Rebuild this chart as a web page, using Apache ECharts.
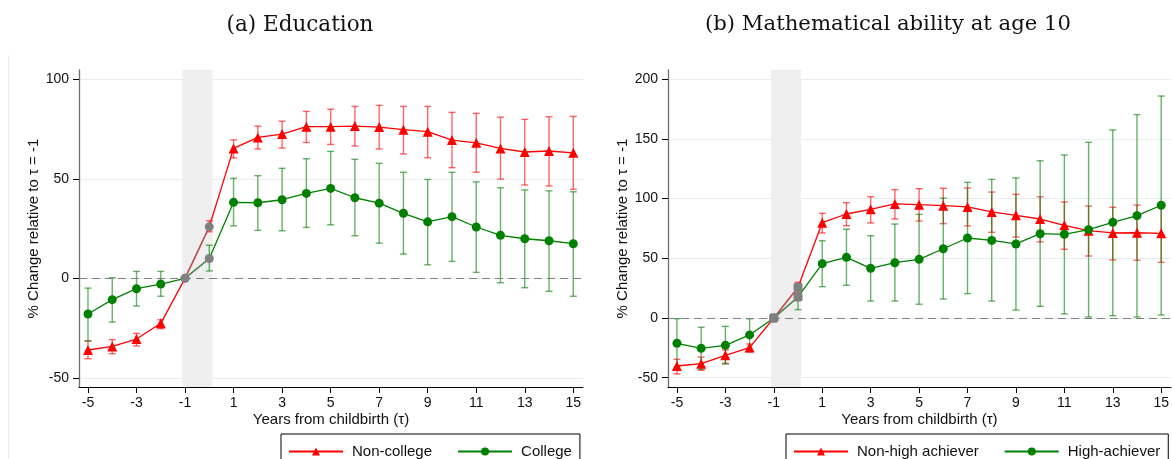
<!DOCTYPE html>
<html>
<head>
<meta charset="utf-8">
<script src="https://cdn.jsdelivr.net/npm/echarts@6/dist/echarts.min.js"></script>
<style>
html,body{margin:0;padding:0;background:#fff;}
#chart{width:1172px;height:459px;}
</style>
</head>
<body>
<div id="chart"></div>
<script>
// ---------- data ----------
const tau = [-5,-4,-3,-2,-1,0,1,2,3,4,5,6,7,8,9,10,11,12,13,14,15];
const xTicks = [-5,-3,-1,1,3,5,7,9,11,13,15];
const yTicksA = [-50,0,50,100];
const yTicksB = [-50,0,50,100,150,200];
const shadeRange = [-1.11, 0.13];

const titleA = '(a) Education';
const titleB = '(b) Mathematical ability at age 10';
const xName = 'Years from childbirth (τ)';
const yName = '% Change relative to τ = -1';

const nameNonCollege = 'Non-college';
const nameCollege = 'College';
const nameNonHigh = 'Non-high achiever';
const nameHigh = 'High-achiever';

const eduNonCollege   = [-36.0,-34.2,-30.5,-22.6,0,25.9,65.3,70.8,72.5,76.2,76.2,76.5,76.0,74.7,73.7,69.5,68.1,65.3,63.5,64.0,63.1];
const eduNonCollegeLo = [-40.4,-37.9,-34.0,-25.3,0,23.4,60.5,65.0,65.5,68.3,67.3,66.5,65.0,62.5,60.6,55.6,53.3,49.9,46.9,46.4,44.7];
const eduNonCollegeHi = [-31.4,-30.8,-27.7,-20.8,0,28.9,69.6,76.5,79.0,83.9,85.0,86.4,86.9,86.4,86.4,83.4,82.9,81.0,79.9,81.2,81.4];

const eduCollege   = [-17.9,-10.7,-5.2,-2.9,0,10.0,38.2,38.0,39.5,42.7,45.2,40.5,37.8,32.7,28.4,31.0,25.8,21.6,19.9,18.9,17.4];
const eduCollegeLo = [-31.5,-22.0,-13.9,-9.0,0,3.7,26.4,24.1,23.9,25.6,26.9,21.4,17.7,12.2,6.8,8.5,3.0,-2.2,-4.7,-6.5,-9.0];
const eduCollegeHi = [-4.9,0.3,3.5,3.5,0,16.6,50.3,51.6,55.3,60.1,63.8,59.8,57.8,53.3,49.7,53.3,48.5,45.5,44.4,44.0,43.5];

const mathNonHigh   = [-40.2,-38.3,-31.3,-24.8,0,25.7,79.8,87.1,91.0,95.5,94.9,94.1,93.0,88.8,86.0,82.9,77.6,73.1,71.2,71.4,70.9];
const mathNonHighLo = [-46.9,-43.8,-38.0,-28.5,0,21.2,71.2,77.3,79.6,82.9,81.2,79.0,77.1,71.8,67.8,63.7,57.5,51.9,48.6,48.3,46.6];
const mathNonHighHi = [-34.6,-32.7,-26.8,-21.8,0,29.9,87.7,96.6,101.6,107.5,108.3,108.6,108.9,105.5,103.6,101.6,97.2,93.8,92.7,94.6,95.2];

const mathHigh   = [-21.2,-25.4,-22.9,-14.2,0,17.6,45.5,50.8,41.6,46.3,49.1,58.0,67.0,65.0,62.0,70.6,70.1,74.0,80.1,85.7,94.4];
const mathHighLo = [-41.0,-43.0,-38.5,-27.0,0,7.0,26.2,27.4,14.2,14.2,11.5,15.9,20.4,14.2,6.7,9.8,3.4,0.8,1.9,0.8,2.5];
const mathHighHi = [-0.6,-7.8,-7.0,-0.6,0,27.4,64.7,74.3,68.9,78.7,86.8,100.5,113.6,116.1,117.3,131.7,136.5,147.2,157.5,170.3,185.9];

// ---------- styling ----------
const RED = '#ff0000', GREEN = '#008000', GRAY = '#808080';
const FONT = 'Liberation Sans';
const refIdx = [tau.indexOf(-1), tau.indexOf(0)];

function lineData(vals, graySymbol) {
  return tau.map((t, i) => {
    if (refIdx.includes(i)) {
      return { value: [t, vals[i]], symbol: graySymbol, symbolSize: 9, itemStyle: { color: GRAY } };
    }
    return [t, vals[i]];
  });
}
function lineSeries(name, vals, color, symbol, size, gi, graySymbol) {
  return {
    name, type: 'line', xAxisIndex: gi, yAxisIndex: gi,
    data: lineData(vals, graySymbol),
    symbol, symbolSize: size, showSymbol: true,
    lineStyle: { color, width: 1.3 }, itemStyle: { color },
    z: 5, animation: false
  };
}
function graySeg(vals, gi) {
  return {
    name: 'ref-' + gi, type: 'line', xAxisIndex: gi, yAxisIndex: gi,
    data: refIdx.map(i => [tau[i], vals[i]]),
    symbol: 'none', lineStyle: { color: 'rgba(128,128,128,0.6)', width: 1.3 },
    z: 6, animation: false, silent: true
  };
}
function errSeries(lo, hi, color, gi) {
  return {
    type: 'custom', name: 'ci', xAxisIndex: gi, yAxisIndex: gi,
    data: tau.map((t, i) => [t, lo[i], hi[i]]),
    encode: { x: 0, y: [1, 2] },
    renderItem: function (params, api) {
      const x = api.value(0), l = api.value(1), h = api.value(2);
      if (l === h) return null;
      const p1 = api.coord([x, l]), p2 = api.coord([x, h]);
      const w = 3.5;
      const st = { stroke: color, lineWidth: 1.4, fill: null };
      return { type: 'group', children: [
        { type: 'line', shape: { x1: p1[0], y1: p1[1], x2: p2[0], y2: p2[1] }, style: st },
        { type: 'line', shape: { x1: p1[0]-w, y1: p1[1], x2: p1[0]+w, y2: p1[1] }, style: st },
        { type: 'line', shape: { x1: p2[0]-w, y1: p2[1], x2: p2[0]+w, y2: p2[1] }, style: st }
      ]};
    },
    z: 3, animation: false, silent: true
  };
}
function decoSeries(gi) {
  return {
    type: 'line', name: 'deco-' + gi, xAxisIndex: gi, yAxisIndex: gi, data: [],
    markArea: { silent: true, itemStyle: { color: '#efefef' },
      data: [[{ xAxis: shadeRange[0] }, { xAxis: shadeRange[1] }]] },
    markLine: { silent: true, symbol: 'none', label: { show: false },
      lineStyle: { color: GRAY, type: [8, 5], width: 1.2 },
      data: [{ yAxis: 0 }] },
    z: 1, animation: false
  };
}
function xAx(gi) {
  return {
    gridIndex: gi, type: 'value', min: -5.37, max: 15.4,
    axisLine: { show: true, onZero: false, lineStyle: { color: '#000', width: 1 } },
    axisTick: { show: true, customValues: xTicks, length: 6, lineStyle: { color: '#000' } },
    axisLabel: { customValues: xTicks, fontSize: 14, color: '#111', margin: 9, fontFamily: FONT },
    splitLine: { show: false },
    name: xName, nameLocation: 'middle', nameGap: 25, nameMoveOverlap: false,
    nameTextStyle: { fontSize: 15, color: '#111', fontFamily: FONT }
  };
}
function yAx(gi, min, max, ticks) {
  return {
    gridIndex: gi, type: 'value', min, max,
    axisLine: { show: true, onZero: false, lineStyle: { color: '#6e6e6e', width: 1.3 } },
    axisTick: { show: true, customValues: ticks, length: 6, lineStyle: { color: '#000' } },
    axisLabel: { customValues: ticks, fontSize: 14, color: '#111', margin: 10, fontFamily: FONT },
    splitLine: { show: true, lineStyle: { color: '#e4eef0', width: 1 } },
    name: yName, nameLocation: 'middle', nameGap: 38, nameRotate: 90, nameMoveOverlap: false,
    nameTextStyle: { fontSize: 15, color: '#111', fontFamily: FONT }
  };
}
function legend(names, left) {
  return {
    data: names, left, top: 434, orient: 'horizontal',
    itemWidth: 54, itemHeight: 10, itemGap: 25,
    padding: [10, 8, 10, 7],
    borderColor: '#000', borderWidth: 1, borderRadius: 0,
    textStyle: { fontSize: 15, color: '#111', fontFamily: FONT, padding: [0, 0, 0, 4] },
    selectedMode: false
  };
}

const chart = echarts.init(document.getElementById('chart'), null, { renderer: 'canvas' });
chart.setOption({
  backgroundColor: '#fff',
  animation: false,
  title: [
    { text: titleA, left: 295, top: 9, textAlign: 'center',
      textStyle: { fontFamily: 'DejaVu Serif', fontWeight: 'normal', fontSize: 21.5, color: '#111' } },
    { text: titleB, left: 883, top: 9, textAlign: 'center',
      textStyle: { fontFamily: 'DejaVu Serif', fontWeight: 'normal', fontSize: 21.2, color: '#111' } }
  ],
  graphic: [
    { type: 'line', shape: { x1: 8.5, y1: 55, x2: 8.5, y2: 459 }, style: { stroke: '#eaf0f1', lineWidth: 1 }, silent: true }
  ],
  legend: [ legend([nameNonCollege, nameCollege], 281), legend([nameNonHigh, nameHigh], 786) ],
  grid: [
    { left: 79, top: 70, width: 504, height: 317 },
    { left: 668, top: 70, width: 504, height: 317 }
  ],
  xAxis: [ xAx(0), xAx(1) ],
  yAxis: [ yAx(0, -54.6, 104.7, yTicksA), yAx(1, -57.8, 207.7, yTicksB) ],
  series: [
    decoSeries(0), decoSeries(1),
    errSeries(eduNonCollegeLo, eduNonCollegeHi, 'rgba(255,0,0,0.6)', 0),
    errSeries(eduCollegeLo, eduCollegeHi, 'rgba(0,128,0,0.6)', 0),
    lineSeries(nameNonCollege, eduNonCollege, RED, 'triangle', 10, 0, 'circle'),
    lineSeries(nameCollege, eduCollege, GREEN, 'circle', 9, 0, 'circle'),
    graySeg(eduNonCollege, 0), graySeg(eduCollege, 0),
    errSeries(mathNonHighLo, mathNonHighHi, 'rgba(255,0,0,0.6)', 1),
    errSeries(mathHighLo, mathHighHi, 'rgba(0,128,0,0.6)', 1),
    lineSeries(nameNonHigh, mathNonHigh, RED, 'triangle', 10, 1, 'roundRect'),
    lineSeries(nameHigh, mathHigh, GREEN, 'circle', 9, 1, 'roundRect'),
    graySeg(mathNonHigh, 1), graySeg(mathHigh, 1)
  ]
});
</script>
</body>
</html>
